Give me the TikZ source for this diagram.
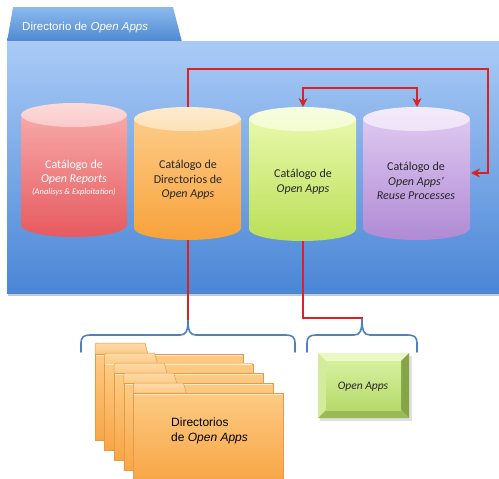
\documentclass[tikz,border=0pt]{standalone}
\usepackage{fontspec}
\setmainfont{Carlito}
\newfontfamily\arialf{Liberation Sans}
\usetikzlibrary{arrows.meta}
\definecolor{tabTop}{HTML}{8CBAEE}
\definecolor{tabBot}{HTML}{4E88D2}
\definecolor{bodyTop}{HTML}{AACBF6}
\definecolor{bodyMid}{HTML}{78A8E8}
\definecolor{bodyBot}{HTML}{4A86D6}
\definecolor{redA}{HTML}{F7A8A8}\definecolor{redB}{HTML}{E65A5E}\definecolor{redE}{HTML}{FBCACA}
\definecolor{orA}{HTML}{FDCB88}\definecolor{orB}{HTML}{F8A23A}\definecolor{orE}{HTML}{FDE2B8}
\definecolor{grA}{HTML}{E8F8AA}\definecolor{grB}{HTML}{BADF58}\definecolor{grE}{HTML}{F3FCD2}
\definecolor{puA}{HTML}{DDC8F0}\definecolor{puB}{HTML}{B08AD4}\definecolor{puE}{HTML}{EEE2F8}
\definecolor{lineRed}{HTML}{DA2222}
\definecolor{braceBlue}{HTML}{4F81BD}
\definecolor{fldA}{HTML}{FDCB84}\definecolor{fldB}{HTML}{F8A646}\definecolor{fldEdge}{HTML}{E49A48}
\definecolor{gbT}{HTML}{EAF8C4}\definecolor{gbL}{HTML}{D2EC9C}\definecolor{gbR}{HTML}{86A646}\definecolor{gbD}{HTML}{9ABA56}
\definecolor{gfA}{HTML}{D6F09E}\definecolor{gfB}{HTML}{B6DA6C}
\newcommand\drawcyl[7]{%
  \pgfmathsetmacro\cyx{(#1+#2)/2}%
  \pgfmathsetmacro\cyr{(#2-#1)/2}%
  \pgfmathsetmacro\cyk{\cyr*0.5523}%
  \pgfmathsetmacro\cyt{#3+12}%
  \pgfmathsetmacro\cyb{#4-12}%
  \pgfmathsetmacro\cybk{\cyb+6.63}%
  \pgfmathsetmacro\cyxa{\cyx-\cyk}%
  \pgfmathsetmacro\cyxb{\cyx+\cyk}%
  \shade[top color=#5, bottom color=#6]
    (#1,\cyt) -- (#1,\cyb) .. controls (#1,\cybk) and (\cyxa,#4) .. (\cyx,#4)
    .. controls (\cyxb,#4) and (#2,\cybk) .. (#2,\cyb) -- (#2,\cyt) -- cycle;
  \shade[top color=#7!70!white, bottom color=#7] (\cyx,\cyt) ellipse [x radius=\cyr, y radius=12];
}
\begin{document}
\begin{tikzpicture}[x=1pt,y=-1pt,
  redline/.style={draw=lineRed, line width=2.6pt},
  bracestyle/.style={draw=braceBlue, line width=1.6pt, line cap=round},
  cyltext/.style={align=center, font=\fontsize{12}{14.5}\selectfont, inner sep=0pt},
  tip/.style={-{Stealth[length=9pt,width=9pt]}}]
\useasboundingbox (0,0) rectangle (499,479);
\fill[white] (0,0) rectangle (499,479);
% big folder
\shade[top color=tabTop, bottom color=tabBot] (7,42) -- (13,7) -- (173,7) -- (182,42) -- cycle;
\fill[black!22] (8,293) rectangle (499,295.5);
\shade[top color=bodyTop, middle color=bodyMid, bottom color=bodyBot] (7,41) rectangle (499,293);
\node[anchor=west, text=white, inner sep=0pt, font=\arialf\fontsize{11.5}{13}\selectfont] (title) at (22,28) {Directorio de \textit{Open Apps}};
% cylinders
\drawcyl{21}{127}{103}{237}{redA}{redB}{redE}
\drawcyl{134}{241}{107}{240}{orA}{orB}{orE}
\drawcyl{249}{356}{107}{241}{grA}{grB}{grE}
\drawcyl{363}{470}{107}{240}{puA}{puB}{puE}
\node[cyltext, text=white] (cR) at (74,178) {Catálogo de\\\textit{Open Reports}\\[-3pt]{\fontsize{8.5}{10}\selectfont\textit{(Analisys \& Exploitation)}}};
\node[cyltext, text=black!85] (cO) at (188,180) {Catálogo de\\Directorios de\\\textit{Open Apps}};
\node[cyltext, text=black!85] (cG) at (303,182) {Catálogo de\\\textit{Open Apps}};
\node[cyltext, text=black!85] (cP) at (416,181) {Catálogo de\\\textit{Open Apps’}\\\textit{Reuse Processes}};
% connector ends
\coordinate (orTop) at (188,107);
\coordinate (orBot) at (188,240);
\coordinate (grTop) at (303,107);
\coordinate (grBot) at (303,241);
\coordinate (puTop) at (417,107);
\coordinate (puRight) at (471,173);
\coordinate (brA) at (188,320);
\coordinate (brB) at (362,319);
% red connectors
\draw[redline, tip] (orTop) -- ++(0,-38) -- ++(300,0) |- (puRight);
\draw[redline, {Stealth[length=9pt,width=9pt]}-{Stealth[length=9pt,width=9pt]}] (grTop) -- ++(0,-19) -| (puTop);
% braces
\draw[bracestyle] (81,352) -- (81,343) .. controls (81,337) and (84,335) .. (90,335) -- (180,335)
  .. controls (186,335) and (188,331) .. (brA) .. controls (188,331) and (190,335) .. (196,335)
  -- (286,335) .. controls (292,335) and (295,337) .. (295,343) -- (295,352);
\draw[bracestyle] (307,352) -- (307,343) .. controls (307,337) and (310,335) .. (316,335) -- (354,335)
  .. controls (360,335) and (362,331) .. (brB) .. controls (362,331) and (364,335) .. (370,335)
  -- (408,335) .. controls (414,335) and (417,337) .. (417,343) -- (417,352);
\draw[redline] (orBot) -- (brA);
\draw[redline] (grBot) -- ++(0,77) -| (brB);
% folder stack
\foreach \i in {0,...,4}{
  \pgfmathsetmacro\fl{95+9.6*\i}
  \pgfmathsetmacro\ft{343+10*\i}
  \pgfmathsetmacro\fb{354+9.8*\i}
  \pgfmathsetmacro\fr{243+10*\i}
  \pgfmathsetmacro\fd{440+10*\i}
  \shade[top color=fldA!70!white, bottom color=fldA, draw=fldEdge, line width=0.5pt]
    (\fl,\fb) -- (\fl,\ft+1.5) -- (\fl+1.5,\ft) -- (\fl+50,\ft) -- (\fl+53,\fb) -- cycle;
  \shade[top color=fldA, bottom color=fldB, draw=fldEdge, line width=0.5pt] (\fl,\fb) rectangle (\fr,\fd);
  \draw[white!60!fldA, line width=1pt] (\fl+0.8,\fb+1) -- (\fr-0.8,\fb+1);
}
\node[anchor=west, align=left, inner sep=0pt, font=\arialf\fontsize{12}{14.5}\selectfont] (dirs) at (171,431) {Directorios\\de \textit{Open Apps}};
% green bevel box
\fill[black!12] (320,356) rectangle (412,421);
\fill[gbT] (318,353) -- (409,353) -- (401,361) -- (326,361) -- cycle;
\fill[gbL] (318,353) -- (326,361) -- (326,410) -- (318,418) -- cycle;
\fill[gbR] (409,353) -- (409,418) -- (401,410) -- (401,361) -- cycle;
\fill[gbD] (318,418) -- (409,418) -- (401,410) -- (326,410) -- cycle;
\shade[top color=gfA, bottom color=gfB] (326,361) rectangle (401,410);
\node[font=\fontsize{11.5}{13}\selectfont, text=black!85, inner sep=0pt] (oa) at (363,387) {\textit{Open Apps}};
\end{tikzpicture}
\end{document}
